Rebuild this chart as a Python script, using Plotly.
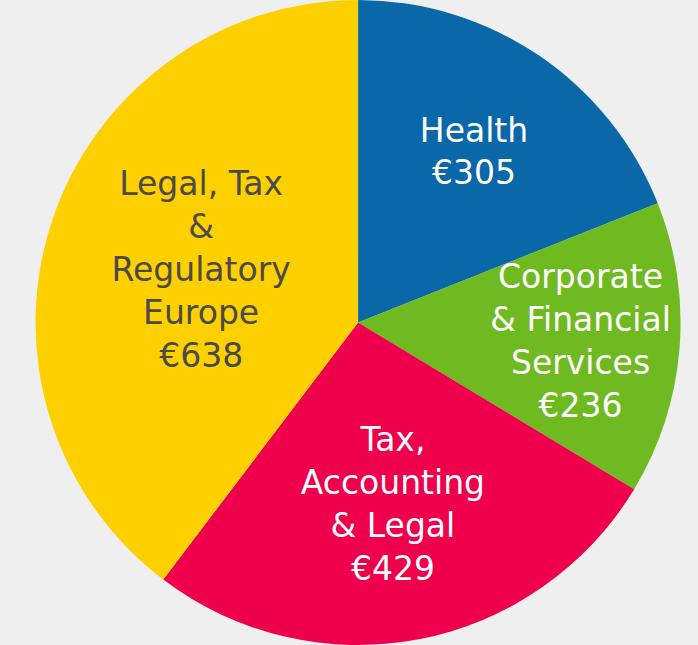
import plotly.graph_objects as go

labels = ["Health", "Corporate & Financial Services", "Tax, Accounting & Legal",
          "Legal, Tax & Regulatory Europe"]
label_lines = ["Health", "Corporate<br>& Financial<br>Services", "Tax,<br>Accounting<br>& Legal",
               "Legal, Tax<br>&<br>Regulatory<br>Europe"]
values = [305, 236, 429, 638]
colors = ["#0a67a8", "#6fba20", "#ee004c", "#ffd000"]
text_colors = ["#ffffff", "#ffffff", "#ffffff", "#4a4a4a"]

texts = [f"{l}<br>€{v}" for l, v in zip(label_lines, values)]

fig = go.Figure(go.Pie(
    labels=labels,
    values=values,
    text=texts,
    textinfo="text",
    textposition="inside",
    insidetextorientation="horizontal",
    sort=False,
    direction="clockwise",
    rotation=0,
    marker=dict(colors=colors, line=dict(width=0)),
    insidetextfont=dict(family="DejaVu Sans", size=33, color=text_colors),
    hoverinfo="skip",
    domain=dict(x=[0.026, 1], y=[0, 1]),
    showlegend=False,
))

fig.update_layout(
    width=698, height=645,
    margin=dict(l=0, r=0, t=0, b=0),
    paper_bgcolor="#efefef",
    plot_bgcolor="#efefef",
    uniformtext=dict(minsize=33, mode="show"),
)

fig.write_html(
    "out.html",
    config={"displayModeBar": False},
    post_script="document.body.style.margin='0';document.body.style.overflow='hidden';"
                "document.body.style.background='#efefef';",
)
